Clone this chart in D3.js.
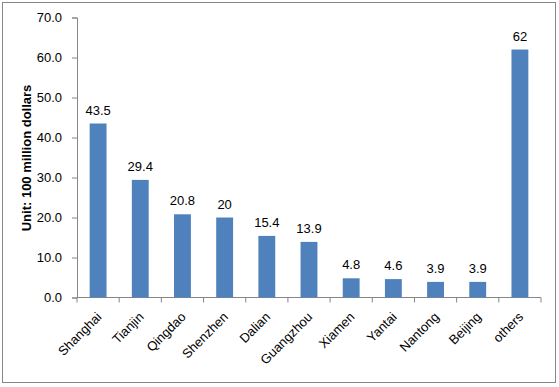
<!DOCTYPE html>
<html>
<head>
<meta charset="utf-8">
<script src="https://cdn.jsdelivr.net/npm/d3@7"></script>
<style>
  body { margin: 0; background: #fff; }
  text { font-family: Arial, "Liberation Sans", sans-serif; }
</style>
</head>
<body>
<div id="chart"></div>
<script>
const cities = ["Shanghai", "Tianjin", "Qingdao", "Shenzhen", "Dalian", "Guangzhou", "Xiamen", "Yantai", "Nantong", "Beijing", "others"];
const amounts = [43.5, 29.4, 20.8, 20, 15.4, 13.9, 4.8, 4.6, 3.9, 3.9, 62];
const yTicks = [0, 10, 20, 30, 40, 50, 60, 70];

const width = 559, height = 387;
const plotLeft = 77, plotRight = 541, plotTop = 17.5, plotBottom = 297.5;

const svg = d3.select("#chart")
    .append("svg")
    .attr("width", width)
    .attr("height", height);

// outer frame
svg.append("rect")
    .attr("x", 2.5).attr("y", 2.5)
    .attr("width", 553).attr("height", 380)
    .attr("fill", "white")
    .attr("stroke", "#868686")
    .attr("stroke-width", 1);

const x = d3.scaleBand()
    .domain(cities)
    .range([plotLeft, plotRight])
    .paddingInner(0.6)
    .paddingOuter(0.3);

const y = d3.scaleLinear()
    .domain([0, 70])
    .range([plotBottom, plotTop]);

// y axis
const yAxis = svg.append("g")
    .attr("transform", `translate(${plotLeft},0)`)
    .call(d3.axisLeft(y).tickValues(yTicks).tickFormat(d3.format(".1f")).tickSize(5).tickPadding(10));
yAxis.select(".domain").attr("stroke", "#868686");
yAxis.selectAll(".tick line").attr("stroke", "#868686");
yAxis.selectAll("text").style("font-size", "13px").attr("fill", "#000");

// x axis with ticks at band edges
const xAxis = svg.append("g")
    .attr("transform", `translate(0,${plotBottom})`);
xAxis.append("line")
    .attr("x1", plotLeft).attr("x2", plotRight)
    .attr("stroke", "#868686");
xAxis.selectAll("line.tk")
    .data(d3.range(cities.length + 1))
    .join("line")
    .attr("class", "tk")
    .attr("x1", i => plotLeft + i * x.step())
    .attr("x2", i => plotLeft + i * x.step())
    .attr("y1", 0).attr("y2", 5)
    .attr("stroke", "#868686");

xAxis.selectAll("text")
    .data(cities)
    .join("text")
    .attr("transform", d => `translate(${x(d) + x.bandwidth() / 2 + 1},${17}) rotate(-45)`)
    .attr("text-anchor", "end")
    .attr("dy", "0.35em")
    .style("font-size", "13px")
    .text(d => d);

// bars
svg.selectAll("rect.bar")
    .data(cities)
    .join("rect")
    .attr("class", "bar")
    .attr("x", d => x(d))
    .attr("width", x.bandwidth())
    .attr("y", (d, i) => y(amounts[i]))
    .attr("height", (d, i) => plotBottom - y(amounts[i]))
    .attr("fill", "#4F81BD");

// value labels
svg.selectAll("text.val")
    .data(cities)
    .join("text")
    .attr("class", "val")
    .attr("x", d => x(d) + x.bandwidth() / 2)
    .attr("y", (d, i) => y(amounts[i]) - 9)
    .attr("text-anchor", "middle")
    .style("font-size", "13px")
    .text((d, i) => amounts[i]);

// y title
svg.append("text")
    .attr("transform", "translate(31,158) rotate(-90)")
    .attr("text-anchor", "middle")
    .style("font-size", "13px")
    .style("font-weight", "bold")
    .text("Unit: 100 million dollars");
</script>
</body>
</html>
